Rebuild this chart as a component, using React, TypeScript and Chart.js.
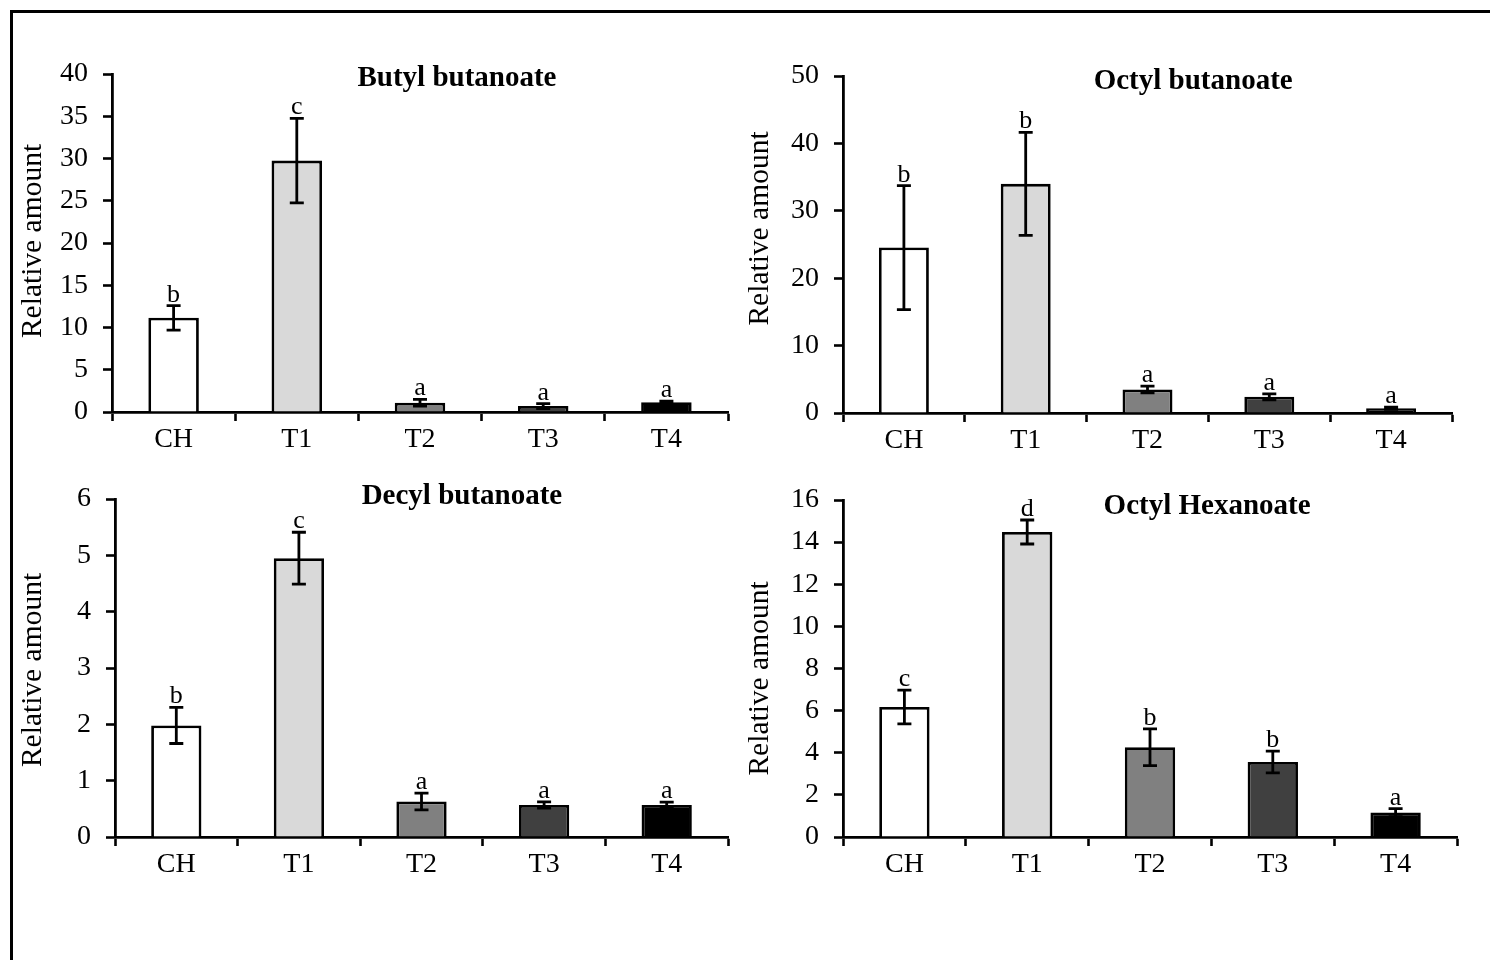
import React, { useEffect, useRef } from "react";
import { Chart, registerables } from "chart.js";

Chart.register(...registerables);

const FONT = '"Liberation Serif", "Times New Roman", serif';

// ---------- data ----------
const categories = ["CH", "T1", "T2", "T3", "T4"];
const barColors = ["#ffffff", "#d9d9d9", "#808080", "#404040", "#000000"];

const butylTitle = "Butyl butanoate";
const butylMeans = [11.15, 29.75, 1.1, 0.7, 1.15];
const butylErrors = [1.45, 5.0, 0.4, 0.3, 0.12];
const butylLetters = ["b", "c", "a", "a", "a"];
const butylTicks = { max: 40, step: 5 };

const octylButTitle = "Octyl butanoate";
const octylButMeans = [24.55, 34.0, 3.5, 2.4, 0.7];
const octylButErrors = [9.2, 7.65, 0.5, 0.45, 0.15];
const octylButLetters = ["b", "b", "a", "a", "a"];
const octylButTicks = { max: 50, step: 10 };

const decylTitle = "Decyl butanoate";
const decylMeans = [1.98, 4.95, 0.63, 0.57, 0.57];
const decylErrors = [0.32, 0.46, 0.15, 0.055, 0.05];
const decylLetters = ["b", "c", "a", "a", "a"];
const decylTicks = { max: 6, step: 1 };

const octylHexTitle = "Octyl Hexanoate";
const octylHexMeans = [6.17, 14.48, 4.26, 3.56, 1.16];
const octylHexErrors = [0.8, 0.57, 0.87, 0.52, 0.19];
const octylHexLetters = ["c", "d", "b", "b", "a"];
const octylHexTicks = { max: 16, step: 2 };

const yAxisTitle = "Relative amount";

// ---------- layout (positions only) ----------
type Box = { L: number; R: number; T: number; B: number; titleFx: number; titleDy: number; yTitleDx: number; yTitleDy: number };
const Y_W = 100;
const TOP_PAD = 40;
const X_H = 60;
const RIGHT_PAD = 10;

type PanelProps = {
  title: string;
  means: number[];
  errors: number[];
  letters: string[];
  ticks: { max: number; step: number };
  box: Box;
};

function Panel({ title, means, errors, letters, ticks, box }: PanelProps) {
  const ref = useRef<HTMLCanvasElement | null>(null);
  useEffect(() => {
    if (!ref.current) return;
    const annot = {
      id: "annot",
      afterDatasetsDraw(chart: any) {
        const ctx = chart.ctx;
        const ys = chart.scales.y;
        const meta = chart.getDatasetMeta(0);
        const area = chart.chartArea;
        ctx.save();
        ctx.strokeStyle = "#000";
        ctx.fillStyle = "#000";
        ctx.lineWidth = 2.8;
        meta.data.forEach((bar: any, i: number) => {
          const x = bar.x;
          const top = ys.getPixelForValue(means[i] + errors[i]);
          const bot = ys.getPixelForValue(Math.max(0, means[i] - errors[i]));
          ctx.beginPath();
          ctx.moveTo(x, top);
          ctx.lineTo(x, bot);
          ctx.moveTo(x - 7, top);
          ctx.lineTo(x + 7, top);
          ctx.moveTo(x - 7, bot);
          ctx.lineTo(x + 7, bot);
          ctx.stroke();
          ctx.font = `26px ${FONT}`;
          ctx.textAlign = "center";
          ctx.textBaseline = "alphabetic";
          ctx.fillText(letters[i], x, top - 4);
        });
        // panel title
        ctx.font = `bold 29px ${FONT}`;
        ctx.textAlign = "center";
        ctx.textBaseline = "middle";
        ctx.fillText(title, area.left + box.titleFx * (area.right - area.left), area.top + box.titleDy);
        // y axis title
        ctx.font = `29.5px ${FONT}`;
        ctx.translate(area.left + box.yTitleDx, (area.top + area.bottom) / 2 + box.yTitleDy);
        ctx.rotate(-Math.PI / 2);
        ctx.fillText(yAxisTitle, 0, 0);
        ctx.restore();
      },
    };
    const chart = new Chart(ref.current, {
      type: "bar",
      data: {
        labels: categories,
        datasets: [
          {
            data: means,
            backgroundColor: barColors,
            borderColor: "#000",
            borderWidth: 2.8,
            borderSkipped: "start",
            barPercentage: 0.41,
            categoryPercentage: 1,
          },
        ],
      },
      options: {
        animation: false,
        responsive: false,
        maintainAspectRatio: false,
        layout: { padding: { top: TOP_PAD, right: RIGHT_PAD, left: 0, bottom: 0 } },
        plugins: { legend: { display: false }, tooltip: { enabled: false } },
        scales: {
          x: {
            afterFit: (s: any) => {
              s.height = X_H;
            },
            border: { display: true, color: "#000", width: 2.8 },
            grid: { display: true, drawOnChartArea: false, drawTicks: true, tickLength: 9, tickWidth: 2.6, tickColor: "#000", offset: true },
            ticks: { color: "#000", font: { family: FONT, size: 28 }, padding: 2, maxRotation: 0 },
          },
          y: {
            min: 0,
            max: ticks.max,
            afterFit: (s: any) => {
              s.width = Y_W;
            },
            border: { display: true, color: "#000", width: 2.8 },
            grid: { display: true, drawOnChartArea: false, drawTicks: true, tickLength: 9, tickWidth: 2.6, tickColor: "#000" },
            ticks: { stepSize: ticks.step, color: "#000", font: { family: FONT, size: 28 }, padding: 15 },
          },
        },
      },
      plugins: [annot],
    });
    return () => chart.destroy();
  }, []);
  const w = box.R - box.L + Y_W + RIGHT_PAD;
  const h = box.B - box.T + TOP_PAD + X_H;
  return (
    <div style={{ position: "absolute", left: box.L - Y_W, top: box.T - TOP_PAD, width: w, height: h }}>
      <canvas ref={ref} width={w} height={h} style={{ width: w, height: h, display: "block" }} />
    </div>
  );
}

const box1: Box = { L: 112, R: 728, T: 74, B: 412, titleFx: 0.56, titleDy: 5, yTitleDx: -79, yTitleDy: -2 };
const box2: Box = { L: 843, R: 1452, T: 76, B: 413, titleFx: 0.575, titleDy: 6, yTitleDx: -83, yTitleDy: -16 };
const box3: Box = { L: 115, R: 728, T: 499, B: 837, titleFx: 0.566, titleDy: -2, yTitleDx: -82, yTitleDy: 2 };
const box4: Box = { L: 843, R: 1457, T: 500, B: 837, titleFx: 0.593, titleDy: 7, yTitleDx: -83, yTitleDy: 10 };

export default function App() {
  return (
    <div style={{ position: "absolute", left: 0, top: 0, width: 1490, height: 960, overflow: "hidden", background: "#fff" }}>
      <div style={{ position: "absolute", left: 10, top: 10, width: 1600, height: 1100, border: "3px solid #000" }} />
      <Panel title={butylTitle} means={butylMeans} errors={butylErrors} letters={butylLetters} ticks={butylTicks} box={box1} />
      <Panel title={octylButTitle} means={octylButMeans} errors={octylButErrors} letters={octylButLetters} ticks={octylButTicks} box={box2} />
      <Panel title={decylTitle} means={decylMeans} errors={decylErrors} letters={decylLetters} ticks={decylTicks} box={box3} />
      <Panel title={octylHexTitle} means={octylHexMeans} errors={octylHexErrors} letters={octylHexLetters} ticks={octylHexTicks} box={box4} />
    </div>
  );
}
